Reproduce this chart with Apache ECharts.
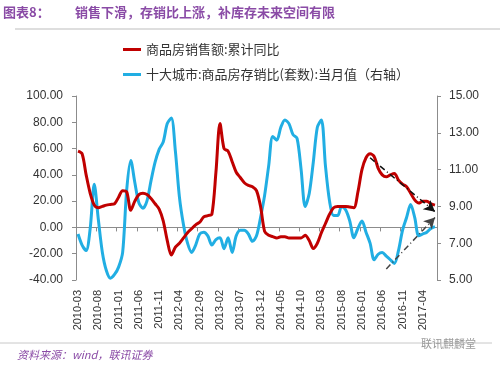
<!DOCTYPE html>
<html><head><meta charset="utf-8">
<script src="https://cdn.jsdelivr.net/npm/echarts@6/dist/echarts.min.js"></script>
<style>html,body{margin:0;padding:0;background:#fff}#c{width:500px;height:370px}</style>
</head><body><div id="c"></div>
<script>
const categories = [
'2010-03','2010-04','2010-05','2010-06','2010-07','2010-08','2010-09','2010-10','2010-11','2010-12',
'2011-01','2011-02','2011-03','2011-04','2011-05','2011-06','2011-07','2011-08','2011-09','2011-10','2011-11','2011-12',
'2012-01','2012-02','2012-03','2012-04','2012-05','2012-06','2012-07','2012-08','2012-09','2012-10','2012-11','2012-12',
'2013-01','2013-02','2013-03','2013-04','2013-05','2013-06','2013-07','2013-08','2013-09','2013-10','2013-11','2013-12',
'2014-01','2014-02','2014-03','2014-04','2014-05','2014-06','2014-07','2014-08','2014-09','2014-10','2014-11','2014-12',
'2015-01','2015-02','2015-03','2015-04','2015-05','2015-06','2015-07','2015-08','2015-09','2015-10','2015-11','2015-12',
'2016-01','2016-02','2016-03','2016-04','2016-05','2016-06','2016-07','2016-08','2016-09','2016-10','2016-11','2016-12',
'2017-01','2017-02','2017-03','2017-04','2017-05','2017-06','2017-07'];

const salesYoY = [
58,56,40,26,17,15,16,17,17.5,18,
23,28,27,13,20,25,26,25,22,18,14,5,
-10,-21,-15,-12,-8,-4,-1,2,4,8,9,10,
42,79,60,58,50,42,38,34,32,31,28,16,
-3,-6,-7,-8,-7,-7,-8,-8,-8,-8,-6,-10,
-16,-12,-4,3,10,15,16,16,16,15.5,15,27,
44,53,56,54,45,40,38.5,40,41,36,33,31,
26,21,18.5,20,20,18,17];

const stockRatio = [
7.5,6.9,6.6,7.8,10.2,8.3,6.5,5.5,5.1,5.3,
5.7,6.5,9.9,11.5,10.3,9.2,8.9,9.3,10.4,11.4,12.1,12.5,
13.5,13.8,12.0,9.5,8.0,7.0,6.5,6.9,7.5,7.6,7.4,6.9,
7.2,7.3,6.7,7.3,6.5,7.4,7.7,7.7,7.5,7.1,7.4,8.4,
9.6,11.2,12.8,12.6,13.3,13.7,13.5,12.9,12.7,11.0,9.0,9.7,
11.4,13.3,13.7,11.2,9.3,8.5,8.5,9.0,8.8,8.2,7.3,7.8,
8.2,7.6,7.0,6.1,6.4,6.5,6.3,6.1,5.9,6.6,7.7,8.4,
9.1,8.4,7.4,7.5,7.6,7.8,7.9];

const leftTicks = {min:-40, max:100, interval:20};
const rightTicks = {min:5, max:15, interval:2};
const redArrow = [['2016-03', 53], ['2017-07', 12]];
const blueArrow = [['2016-07', 5.6], ['2017-07', 8.4]];

const seriesNames = ['商品房销售额:累计同比', '十大城市:商品房存销比(套数):当月值（右轴）'];
const RED = '#C00000', BLUE = '#21AEE3', PURPLE = '#8A4BA6';

const chart = echarts.init(document.getElementById('c'), null, {renderer:'canvas'});
const axisCol = '#8C8C8C';
chart.setOption({
  animation:false,
  textStyle:{fontFamily:'Liberation Sans, Noto Sans CJK SC'},
  graphic:[
    {type:'text', left:3, top:6, style:{text:'图表8：', fill:PURPLE, font:'bold 13px "Noto Sans CJK SC"'}},
    {type:'text', left:75, top:6, style:{text:'销售下滑，存销比上涨，补库存未来空间有限', fill:PURPLE, font:'bold 13px "Noto Sans CJK SC"'}},
    {type:'line', shape:{x1:15, y1:29, x2:500, y2:29}, style:{stroke:'#BDBDBD', lineWidth:1}},
    {type:'line', shape:{x1:0, y1:343, x2:492, y2:343}, style:{stroke:'#C8C8C8', lineWidth:1}},
    {type:'text', left:17, top:349, style:{text:'资料来源：wind，联讯证券', fill:PURPLE, font:'italic 11px "Noto Sans CJK SC"'}},
    {type:'text', left:421, top:338, style:{text:'联讯麒麟堂', fill:'#9A9A9A', font:'11px "Noto Sans CJK SC"'}}
  ],
  legend:{
    orient:'vertical', left:118, top:38, itemGap:12,
    itemWidth:18, itemHeight:3, icon:'rect',
    textStyle:{fontSize:13, color:'#333', fontFamily:'Noto Sans CJK SC'},
    data:seriesNames
  },
  grid:{left:76, right:63, top:96, bottom:90, containLabel:false},
  xAxis:[
    {type:'category', data:categories, boundaryGap:true, position:'bottom',
     axisLine:{show:false, onZero:false}, axisTick:{show:false},
     axisLabel:{interval:4, rotate:90, fontSize:11, color:'#333', margin:10, fontFamily:'Liberation Sans'}},
    {type:'category', data:categories, boundaryGap:true, position:'bottom',
     axisLine:{show:true, onZero:true, lineStyle:{color:axisCol, width:1}},
     axisTick:{show:true, interval:4, length:4, lineStyle:{color:axisCol}},
     axisLabel:{show:false}}
  ],
  yAxis:[
    {type:'value', min:leftTicks.min, max:leftTicks.max, interval:leftTicks.interval, position:'left',
     splitLine:{show:false},
     axisLine:{show:true, lineStyle:{color:axisCol}},
     axisTick:{show:true, length:4, lineStyle:{color:axisCol}},
     axisLabel:{formatter:v=>v.toFixed(2), fontSize:12, color:'#333', margin:13, fontFamily:'Liberation Sans'}},
    {type:'value', min:rightTicks.min, max:rightTicks.max, interval:rightTicks.interval, position:'right',
     splitLine:{show:false},
     axisLine:{show:true, lineStyle:{color:axisCol}},
     axisTick:{show:true, length:4, lineStyle:{color:axisCol}},
     axisLabel:{formatter:v=>v.toFixed(2), fontSize:12, color:'#333', margin:12, fontFamily:'Liberation Sans'}}
  ],
  series:[
    {name:seriesNames[0], type:'line', data:salesYoY, xAxisIndex:0, yAxisIndex:0,
     smooth:0.3, showSymbol:false, color:RED, lineStyle:{width:3, color:RED}, z:3,
     markLine:{silent:true, symbol:['none','arrow'], symbolSize:[9,11], label:{show:false},
       lineStyle:{color:'#111', width:1.5, type:[6,3,1,3]},
       data:[[{coord:redArrow[0]},{coord:redArrow[1]}]]}},
    {name:seriesNames[1], type:'line', data:stockRatio, xAxisIndex:0, yAxisIndex:1,
     smooth:0.3, showSymbol:false, color:BLUE, lineStyle:{width:3, color:BLUE}, z:2,
     markLine:{silent:true, symbol:['none','arrow'], symbolSize:[9,11], label:{show:false},
       lineStyle:{color:'#444', width:1.5, type:[6,3,1,3]},
       data:[[{coord:blueArrow[0]},{coord:blueArrow[1]}]]}}
  ]
});
</script></body></html>
